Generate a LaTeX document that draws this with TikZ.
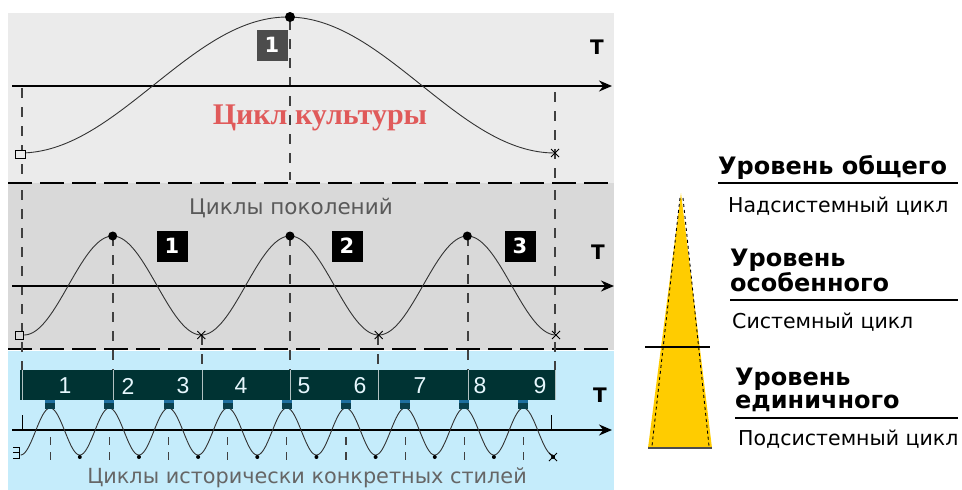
\documentclass[tikz,border=0pt]{standalone}
\usepackage{fontspec}
\setmainfont{DejaVu Sans}
\newfontfamily\serifcyr{Liberation Serif}
\newfontfamily\arialcyr{Liberation Sans}
\usetikzlibrary{arrows.meta,positioning,calc}
\definecolor{topgray}{HTML}{EBEBEB}
\definecolor{midgray}{HTML}{D9D9D9}
\definecolor{skyblue}{HTML}{C5ECFB}
\definecolor{bandteal}{HTML}{003333}
\definecolor{redtext}{HTML}{E05A5A}
\definecolor{goldyellow}{HTML}{FFCC00}
\definecolor{markblue}{HTML}{1F6F9F}
\definecolor{markdark}{HTML}{0A3F4C}
\tikzset{
  axis/.style={line width=1.4pt,-{Stealth[length=13pt,width=11pt]}},
  wave/.style={line width=0.9pt,draw=black!80},
  vdash/.style={line width=1.1pt,draw=black!75,dash pattern=on 10pt off 9pt},
  hdash/.style={line width=1.6pt,dash pattern=on 24pt off 8pt},
  numbox/.style={fill=black,text=white,font=\bfseries\fontsize{21}{21}\selectfont,minimum width=31pt,minimum height=31pt,inner sep=0pt},
  tlabel/.style={font=\bfseries\fontsize{20}{20}\selectfont},
  levelhead/.style={font=\bfseries\fontsize{24}{22.5}\selectfont,anchor=north west,align=left,inner sep=0pt},
  cyclename/.style={font=\fontsize{20.5}{20.5}\selectfont,anchor=base west,inner sep=0pt},
  xmark/.style={line width=0.8pt},
}
\begin{document}
\begin{tikzpicture}[x=1pt,y=-1pt]
  \useasboundingbox (0,0) rectangle (962,490);
  % panels
  \fill[topgray] (8,13) rectangle (614,183);
  \fill[midgray] (8,183) rectangle (614,350);
  \fill[skyblue] (8,351) rectangle (614,490);
  \draw[hdash] (8,183) -- (614,183);
  \draw[hdash] (8,349) -- (614,349);

  % culture cycle
  \draw[vdash] (22,88) -- (22,180);
  \draw[vdash] (290,20) -- (290,180);
  \draw[vdash] (555,92) -- (555,180);
  \coordinate (a1s) at (12,86);
  \coordinate (a1e) at (612,86);
  \draw[axis] (a1s) -- (a1e);
  \draw[wave] plot[domain=20:555,samples=120,smooth] (\x,{85+68*cos((\x-20)/535*360)});
  \draw[fill=topgray,line width=0.8pt] (15,150) rectangle (25,158);
  \draw[xmark] (551,149) -- (559,157) (551,157) -- (559,149);
  \fill (290,17) circle (5);
  \node[numbox,fill=black!70] (c1) at (272,45) {1};
  \node[tlabel] (t1) at (597,47) {T};
  \node[font=\serifcyr\bfseries\fontsize{30}{30}\selectfont,text=redtext] (culture) at (320,118) {Цикл культуры};

  % generation cycles
  \node[font=\fontsize{21.5}{21.5}\selectfont,text=black!65] (gens) at (291,208) {Циклы поколений};
  \foreach \x/\y in {22/190,113/236,202/335,290/236,378/335,468/236,555/190}
    \draw[vdash] (\x,\y) -- (\x,400);
  \coordinate (a2s) at (12,286);
  \coordinate (a2e) at (614,286);
  \draw[axis] (a2s) -- (a2e);
  \draw[wave] plot[domain=24:556,samples=240,smooth] (\x,{285.5+49.5*cos((\x-24)/177.33*360)});
  \draw[fill=midgray,line width=0.8pt] (15,331) rectangle (23,339);
  \foreach \x in {112.7,290,467.3}
    \fill (\x,236) circle (4.5);
  \foreach \x in {201.3,378.7,556}
    \draw[xmark] (\x-4,331) -- (\x+4,339) (\x-4,339) -- (\x+4,331);
  \foreach \i/\x in {1/172,2/347,3/520}
    \node[numbox] (g\i) at (\x,246) {\i};
  \node[tlabel] (t2) at (598,252) {T};

  % style cycles
  \fill[bandteal] (20,370) rectangle (555,400);
  \foreach \x in {22,113,202,290,378,468,555}
    \draw[white!70!bandteal,line width=1pt] (\x,370) -- (\x,400);
  \foreach \i/\x in {1/65,2/128,3/183,4/241,5/304,6/360,7/420,8/480,9/540}
    \node[font=\arialcyr\fontsize{23}{23}\selectfont,text=white!90!cyan] (s\i) at (\x,386) {\i};
  \coordinate (a3s) at (12,430);
  \coordinate (a3e) at (612,430);
  \draw[axis] (a3s) -- (a3e);
  \draw[line width=1pt] (22,415) -- (22,430) (551,415) -- (551,430);
  \draw[wave] plot[domain=20.6:553,samples=500,smooth] (\x,{431.5+23.5*cos((\x-20.6)/59.16*360)});
  \foreach \k in {0,...,8}{
    \pgfmathsetmacro\px{50.2+59.16*\k}
    \draw[vdash,dash pattern=on 8pt off 7pt] (\px,437) -- (\px,462);
    \fill[markdark] (\px-5,400) rectangle (\px+5,409);
    \fill[markblue] (\px-5,400) rectangle (\px+5,403);
    \fill (\px+29.6,457) circle (2);
  }
  \draw[line width=1pt] (13,447) -- (19,447) -- (19,458) -- (13,458) (13,452.5) -- (20,452.5);
  \draw[xmark] (549,453) -- (557,461) (549,461) -- (557,453);
  \node[tlabel] (t3) at (600,395) {T};
  \node[font=\fontsize{20.8}{20.8}\selectfont,text=black!60] (styles) at (307,478) {Циклы исторически конкретных стилей};

  % level pyramid
  \fill[goldyellow] (681,193) -- (712,448) -- (648,448) -- cycle;
  \draw[dashed,line width=0.9pt] (680,198) -- (652,446);
  \draw[dashed,line width=0.9pt] (683,198) -- (709,446);
  \draw[line width=1.2pt] (645,347) -- (710,347);
  \draw[line width=1.4pt,draw=black!70] (648,448) -- (712,448);

  \node[levelhead] (lv1) at (718,155) {Уровень общего};
  \draw[line width=2pt] (718,183) -- (958,183);
  \node[cyclename] (cy1) at (728,212) {Надсистемный цикл};
  \node[levelhead] (lv2) at (730,249) {Уровень\\особенного};
  \draw[line width=2pt] (730,300) -- (958,300);
  \node[cyclename] (cy2) at (732,328) {Системный цикл};
  \node[levelhead] (lv3) at (735,368) {Уровень\\единичного};
  \draw[line width=2pt] (735,418) -- (958,418);
  \node[cyclename] (cy3) at (738,445) {Подсистемный цикл};
\end{tikzpicture}
\end{document}
